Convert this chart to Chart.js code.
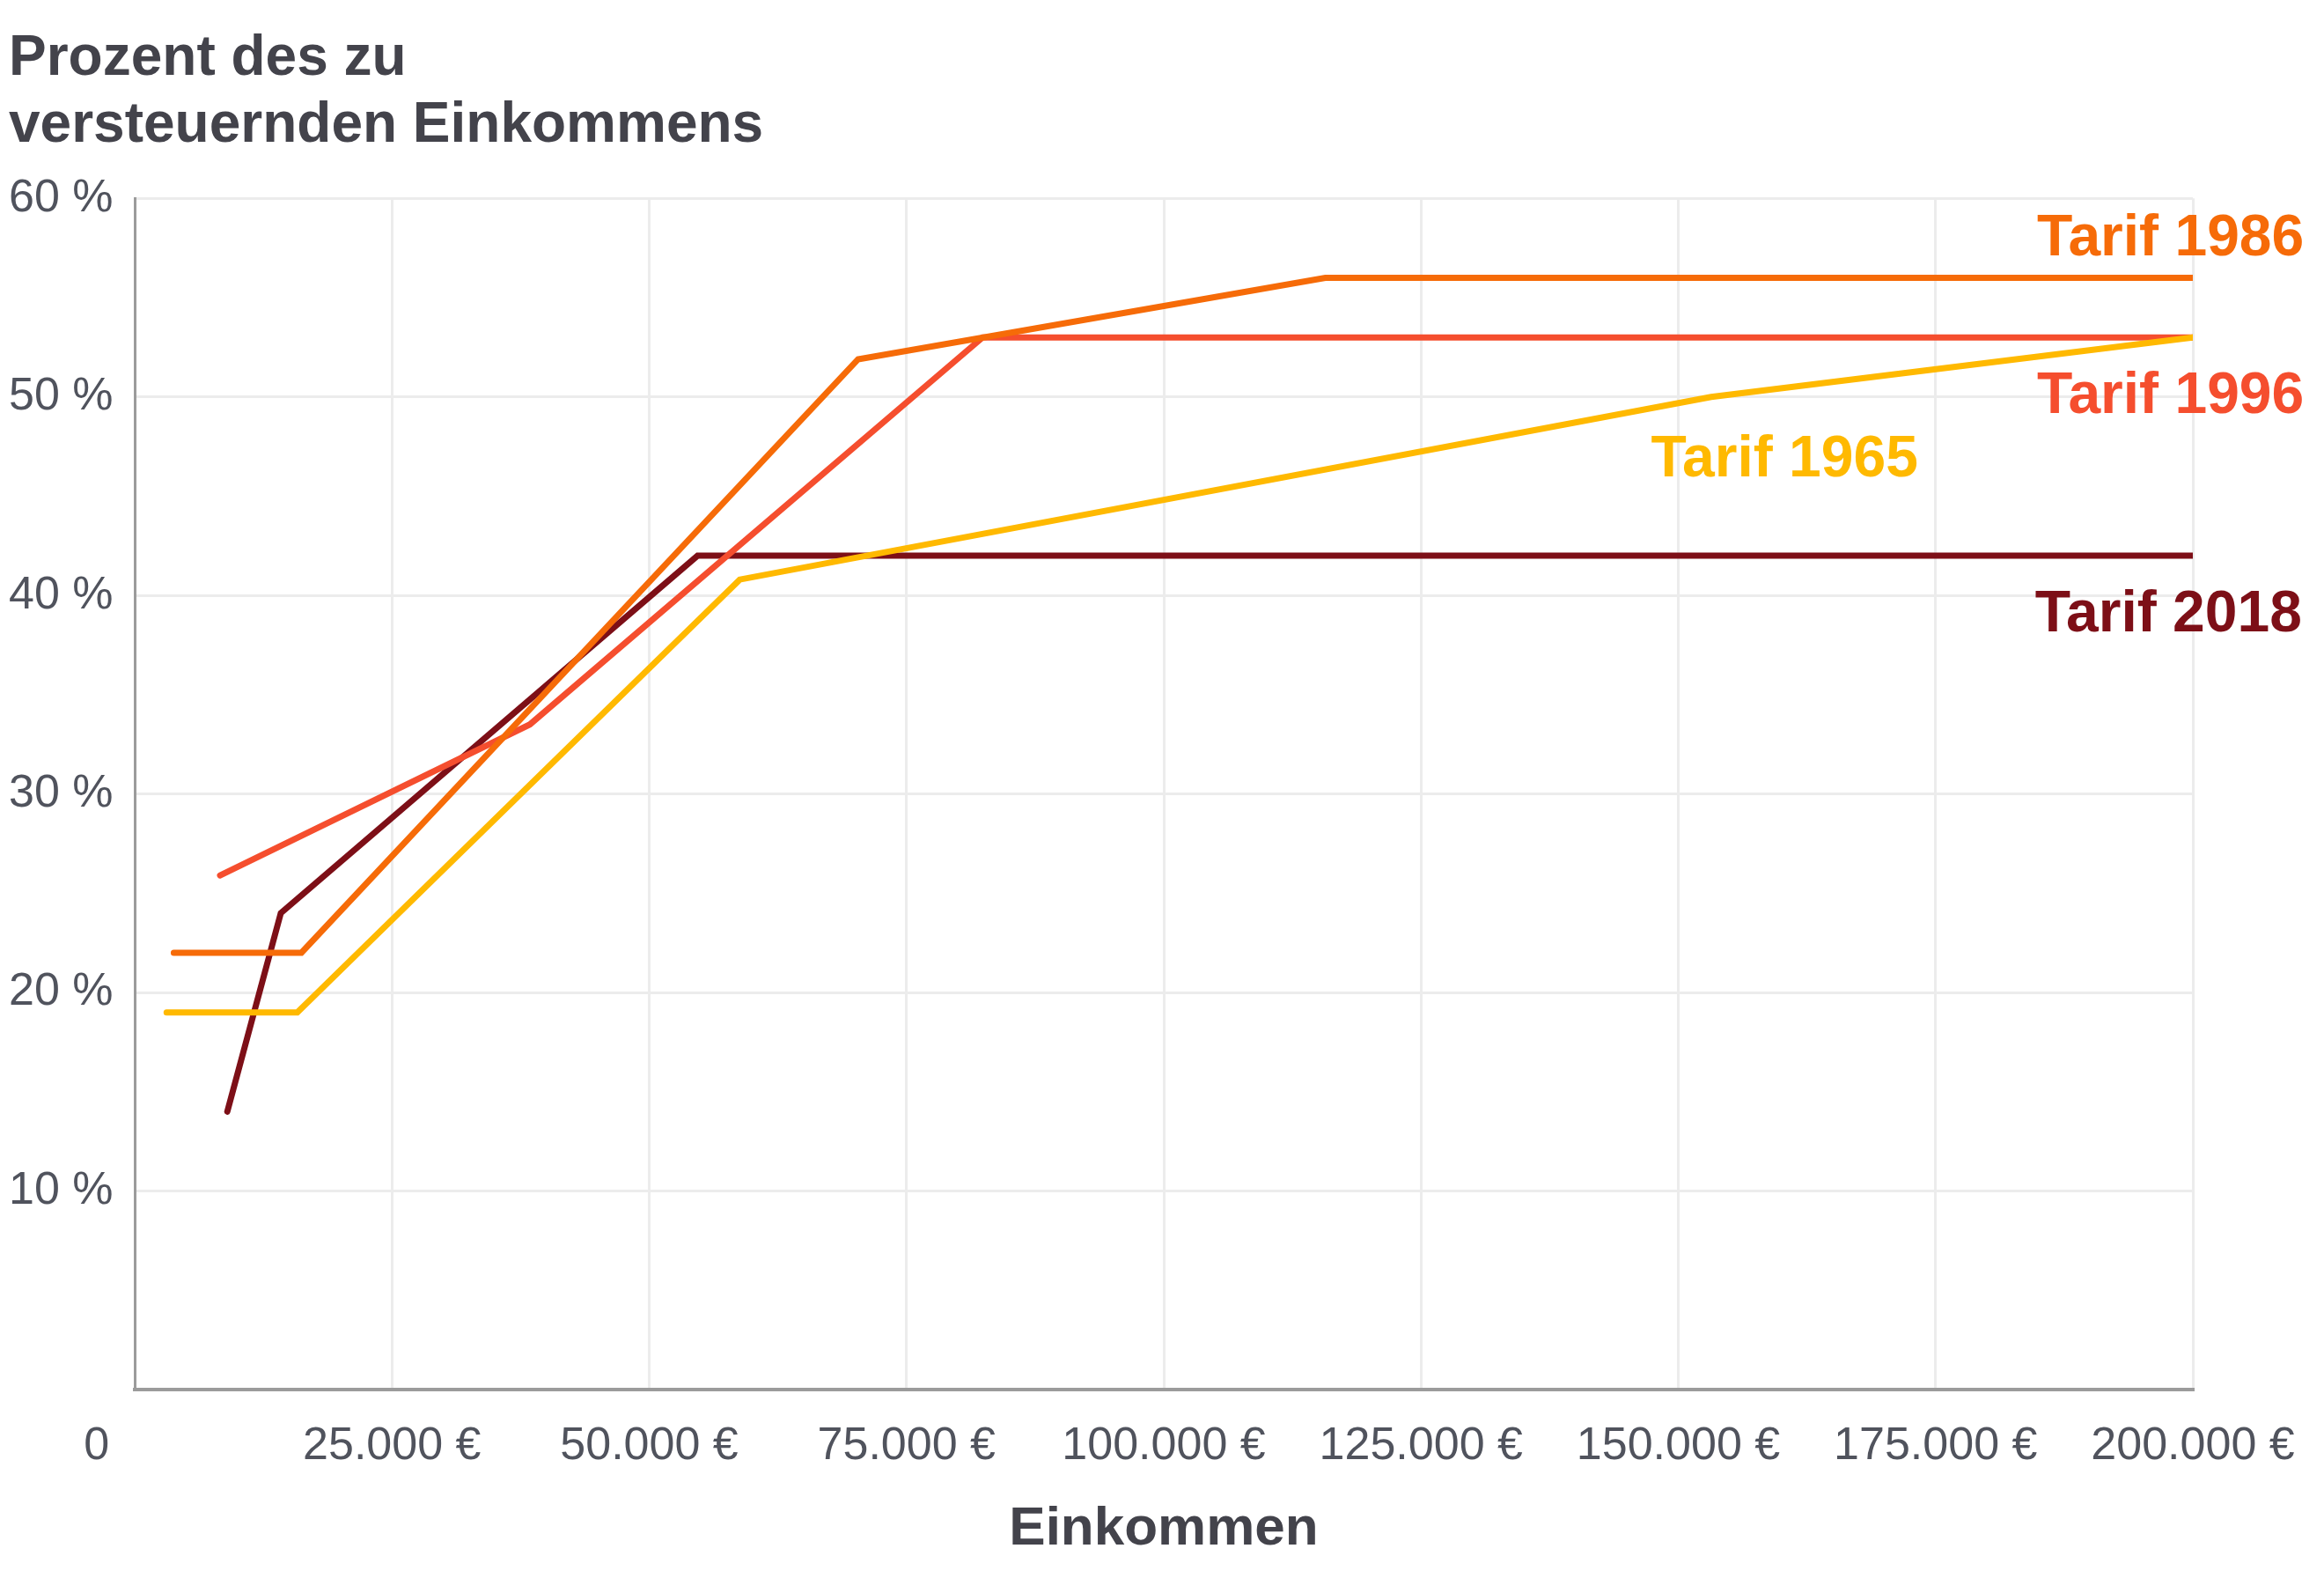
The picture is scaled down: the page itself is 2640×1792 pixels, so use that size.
<!DOCTYPE html>
<html>
<head>
<meta charset="utf-8">
<script src="https://cdn.jsdelivr.net/npm/chart.js@4.4.1/dist/chart.umd.min.js"></script>
<style>
  body { margin: 0; background: #fff; }
  #wrap { width: 2640px; height: 1792px; }
</style>
</head>
<body>
<div id="wrap"><canvas id="myChart"></canvas></div>
<script>
// Grenzsteuersatz je Tarif (Einkommen in Euro, Satz in Prozent)
const einkommen1965 = [3100, 15800, 58800, 153200, 200000];
const satz1965 = [19, 19, 40.8, 50, 53];

const einkommen1986 = [3800, 16200, 70300, 115700, 200000];
const satz1986 = [22, 22, 51.9, 56, 56];

const einkommen1996 = [8300, 38400, 82400, 200000];
const satz1996 = [25.9, 33.5, 53, 53];

const einkommen2018 = [9000, 14200, 54700, 200000];
const satz2018 = [14, 24, 42, 42];

const tarifNamen = ["Tarif 1965", "Tarif 1986", "Tarif 1996", "Tarif 2018"];
const xTicks = [0, 25000, 50000, 75000, 100000, 125000, 150000, 175000, 200000];
const yTicks = [0, 10, 20, 30, 40, 50, 60];

const FONT = "'Liberation Sans', Arial, sans-serif";
const colors = {
  "Tarif 1965": "#ffb900",
  "Tarif 1986": "#f66b08",
  "Tarif 1996": "#f54e2e",
  "Tarif 2018": "#7d0f17",
};

function points(xs, ys) {
  return xs.map((x, i) => ({ x: x, y: ys[i] }));
}

function euro(v) {
  if (v === 0) return "0      ";
  return v.toLocaleString("de-DE") + " €";
}

// Beschriftung am Linienende, Lage in Datenwerten
const seriesLabels = [
  { name: "Tarif 1986", x: 210800, y: 57.15 },
  { name: "Tarif 1996", x: 210800, y: 49.2 },
  { name: "Tarif 1965", x: 173300, y: 46.0 },
  { name: "Tarif 2018", x: 210600, y: 38.2 },
];

const labelPlugin = {
  id: "seriesLabels",
  afterDatasetsDraw(chart) {
    const ctx = chart.ctx;
    const xs = chart.scales.x;
    const ys = chart.scales.y;
    ctx.save();
    ctx.font = "bold 66px " + FONT;
    ctx.textAlign = "right";
    ctx.textBaseline = "alphabetic";
    seriesLabels.forEach((l) => {
      ctx.fillStyle = colors[l.name];
      ctx.fillText(l.name, xs.getPixelForValue(l.x), ys.getPixelForValue(l.y));
    });
    ctx.restore();
  },
};

const sets = [
  [tarifNamen[0], einkommen1965, satz1965],
  [tarifNamen[1], einkommen1986, satz1986],
  [tarifNamen[2], einkommen1996, satz1996],
  [tarifNamen[3], einkommen2018, satz2018],
];

const ctx = document.getElementById("myChart");
new Chart(ctx, {
  type: "line",
  data: {
    datasets: sets.map((s) => ({
      label: s[0],
      data: points(s[1], s[2]),
      borderColor: colors[s[0]],
      borderWidth: 7,
      borderCapStyle: "round",
      pointRadius: 0,
      tension: 0,
      fill: false,
    })),
  },
  options: {
    responsive: true,
    maintainAspectRatio: false,
    devicePixelRatio: 1,
    animation: false,
    layout: { padding: { left: 10, right: 149, top: 0, bottom: 0 } },
    plugins: {
      legend: { display: false },
      tooltip: { enabled: false },
      title: {
        display: true,
        align: "start",
        text: ["Prozent des zu", "versteuernden Einkommens"],
        color: "#43434b",
        font: { family: FONT, size: 64, weight: "bold", lineHeight: 1.19 },
        padding: { top: 29, bottom: 44 },
      },
    },
    scales: {
      x: {
        type: "linear",
        min: 0,
        max: 200000,
        afterBuildTicks: (axis) => {
          axis.ticks = xTicks.map((v) => ({ value: v }));
        },
        afterFit: (axis) => {
          axis.height = 214;
        },
        ticks: {
          autoSkip: false,
          maxRotation: 0,
          padding: 33,
          color: "#50535d",
          font: { family: FONT, size: 52 },
          callback: (v) => euro(v),
        },
        grid: { color: "#ececec", lineWidth: 3, drawTicks: false },
        border: { color: "#9b9b9b", width: 4 },
        title: {
          display: true,
          text: "Einkommen",
          color: "#43434b",
          font: { family: FONT, size: 62, weight: "bold" },
          padding: { top: 22, bottom: 18 },
        },
      },
      y: {
        min: 0,
        max: 60,
        afterBuildTicks: (axis) => {
          axis.ticks = yTicks.map((v) => ({ value: v }));
        },
        afterFit: (axis) => {
          axis.width = 143;
        },
        ticks: {
          crossAlign: "far",
          padding: 20,
          color: "#50535d",
          font: { family: FONT, size: 52 },
          callback: (v) => (v === 0 ? "" : v + " %"),
        },
        grid: { color: "#ececec", lineWidth: 3, drawTicks: false },
        border: { color: "#9b9b9b", width: 3 },
      },
    },
  },
  plugins: [labelPlugin],
});
</script>
</body>
</html>
